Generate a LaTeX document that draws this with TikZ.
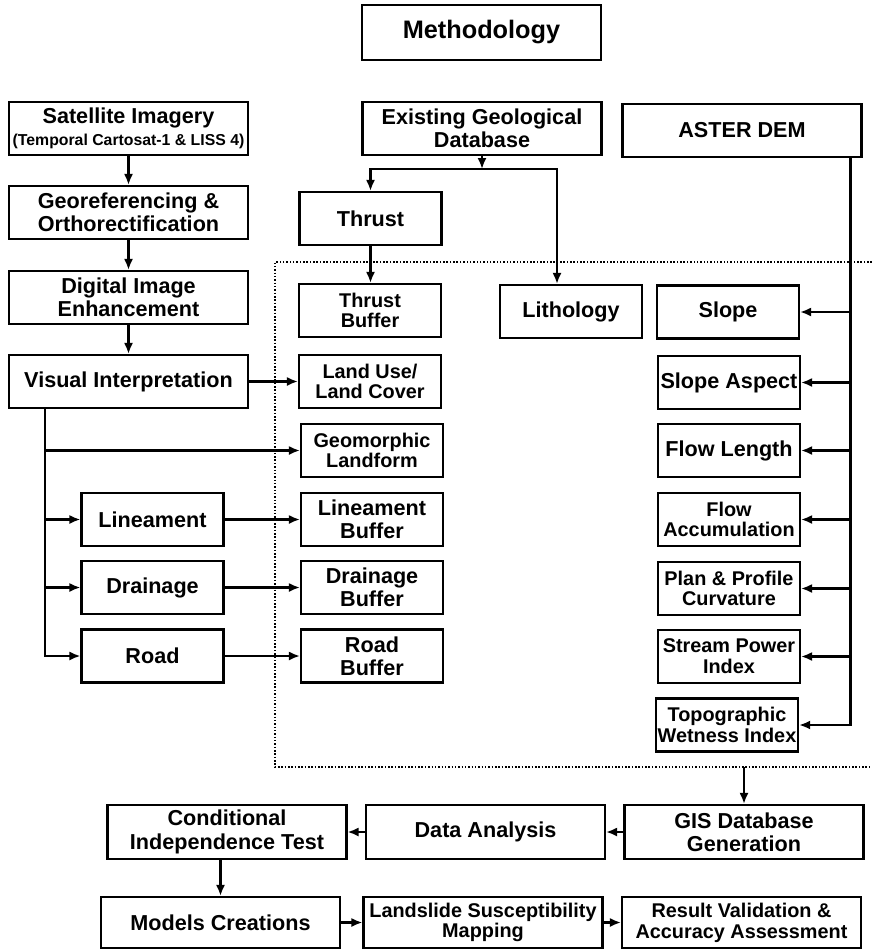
\documentclass[tikz,border=0pt]{standalone}
\usepackage{fontspec}
\setmainfont{Liberation Sans}
\usetikzlibrary{arrows.meta}

\begin{document}
\begin{tikzpicture}[x=0.02cm, y=-0.02cm,
    box/.style={draw, line width=1.2pt, align=center, inner sep=1pt,
        font=\bfseries\fontsize{12.3}{13.3}\selectfont},
    small/.style={font=\bfseries\fontsize{11.3}{11.8}\selectfont},
    wide/.style={box, minimum width=4.78cm, minimum height=1.06cm},
    narrow/.style={box, minimum width=2.84cm, minimum height=1.06cm},
    arr/.style={line width=1.2pt, -{Latex[length=2.2mm, width=1.8mm]}},
    zone/.style={densely dotted, line width=0.9pt}
]
    \useasboundingbox (0,0) rectangle (872,950);
    \draw[zone] (872,262) -| (275,767) -- (872,767);
    \coordinate (zonebot) at (743,767);

    \node[wide, minimum height=1.1cm, font=\bfseries\fontsize{14.4}{16}\selectfont] (meth) at (481.5,32.5) {Methodology};

    \node[wide] (sat) at (128.5,128.5) {Satellite Imagery\\[-1pt]{\fontsize{9}{10}\selectfont (Temporal Cartosat-1 \& LISS 4)}};
    \node[wide] (geo) at (128.5,212.5) {Georeferencing \&\\Orthorectification};
    \node[wide] (dig) at (128.5,297.5) {Digital Image\\Enhancement};
    \node[wide] (vis) at (128.5,381.5) {Visual Interpretation};
    \node[wide] (exist) at (482,128.5) {Existing Geological\\Database};
    \node[wide] (aster) at (742,130.5) {ASTER DEM};

    \node[narrow] (thrust) at (370.5,218.5) {Thrust};
    \node[narrow, small] (tbuf) at (370,310.5) {Thrust\\Buffer};
    \node[narrow, small] (lulc) at (370,381.5) {Land Use/\\Land Cover};
    \node[narrow, small] (geom) at (372,450.5) {Geomorphic\\Landform};
    \node[narrow] (linb) at (372,519.5) {Lineament\\Buffer};
    \node[narrow] (drab) at (372,587.5) {Drainage\\Buffer};
    \node[narrow] (roab) at (372,656) {Road\\Buffer};
    \node[narrow] (lin) at (152.5,519.5) {Lineament};
    \node[narrow] (dra) at (152.5,587.5) {Drainage};
    \node[narrow] (roa) at (152.5,656) {Road};
    \node[narrow] (lith) at (571,311.5) {Lithology};

    \node[narrow] (slope) at (728,312) {Slope};
    \node[narrow] (aspect) at (729,382.5) {Slope Aspect};
    \node[narrow] (flen) at (729,450.5) {Flow Length};
    \node[narrow, small] (facc) at (729,519.5) {Flow\\Accumulation};
    \node[narrow, small] (curv) at (729,588.5) {Plan \& Profile\\Curvature};
    \node[narrow, small] (spi) at (729,656.5) {Stream Power\\Index};
    \node[narrow, small] (twi) at (727,725) {Topographic\\Wetness Index};

    \node[wide, minimum height=1.08cm] (cit) at (227,832) {Conditional\\Independence Test};
    \node[wide, minimum height=1.08cm] (da) at (485.5,832) {Data Analysis};
    \node[wide, minimum height=1.08cm] (gis) at (744,832) {GIS Database\\Generation};
    \node[wide, minimum height=1.02cm] (mod) at (220.5,922.5) {Models Creations};
    \node[wide, small, minimum height=1.02cm] (lsm) at (483,922.5) {Landslide Susceptibility\\Mapping};
    \node[wide, small, minimum height=1.02cm] (res) at (741.5,922.5) {Result Validation \&\\Accuracy Assessment};

    \draw[arr] (sat) -- (geo);
    \draw[arr] (geo) -- (dig);
    \draw[arr] (dig) -- (vis);
    \draw[arr] (vis) -- (lulc);
    \coordinate (trunk) at ([xshift=0.74cm]vis.south west);
    \foreach \n in {geom, lin, dra, roa}
        \draw[arr] (trunk) |- (\n.west);
    \foreach \a/\b in {lin/linb, dra/drab, roa/roab}
        \draw[arr] (\a) -- (\b);

    \coordinate (split) at ([yshift=-0.26cm]exist.south);
    \draw[arr] (exist.south) -- (split);
    \draw[arr] (split) -| (thrust.north);
    \draw[arr] (split) -| ([xshift=-0.28cm]lith.north);
    \draw[arr] (thrust.south) -- (thrust.south |- tbuf.north);

    \coordinate (dem) at ([xshift=-0.24cm]aster.south east);
    \foreach \n in {slope, aspect, flen, facc, curv, spi, twi}
        \draw[arr] (dem) |- (\n.east);

    \draw[arr] (gis.north |- zonebot) -- (gis.north);
    \draw[arr] (gis) -- (da);
    \draw[arr] (da) -- (cit);
    \draw[arr] (cit.south -| mod.north) -- (mod.north);
    \draw[arr] (mod) -- (lsm);
    \draw[arr] (lsm) -- (res);
\end{tikzpicture}
\end{document}
